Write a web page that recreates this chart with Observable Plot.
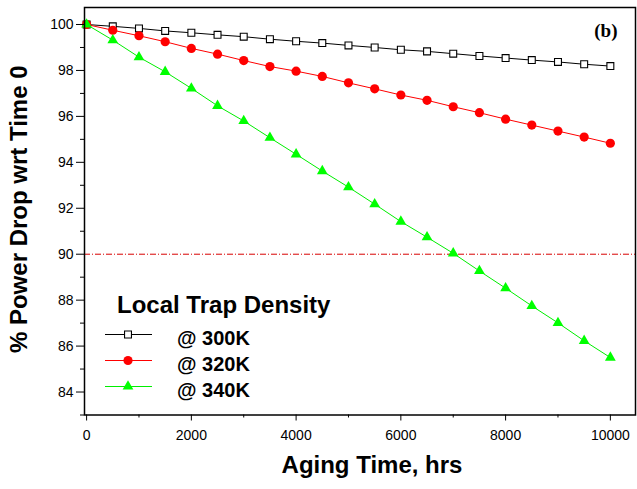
<!DOCTYPE html>
<html><head><meta charset="utf-8">
<script src="https://cdn.jsdelivr.net/npm/d3@7"></script>
<script src="https://cdn.jsdelivr.net/npm/@observablehq/plot@0.6"></script>
<style>
body{margin:0;background:#fff;}
#chart svg{font-family:"Liberation Sans",Arial,sans-serif;display:block;}
</style>
</head><body><div id="chart"></div>
<script>
// ---- data ----
const hours = [0,500,1000,1500,2000,2500,3000,3500,4000,4500,5000,5500,6000,6500,7000,7500,8000,8500,9000,9500,10000];
const series = ["@ 300K","@ 320K","@ 340K"];
const v300K = [100,99.92,99.83,99.72,99.64,99.55,99.47,99.36,99.27,99.19,99.09,99.0,98.90,98.83,98.73,98.63,98.54,98.45,98.37,98.27,98.19];
const v320K = [100,99.75,99.51,99.25,98.96,98.71,98.43,98.17,97.97,97.74,97.46,97.2,96.93,96.70,96.42,96.16,95.88,95.62,95.36,95.10,94.83];
const v340K = [100,99.32,98.58,97.94,97.22,96.46,95.80,95.07,94.35,93.62,92.92,92.18,91.42,90.74,90.04,89.27,88.52,87.75,87.01,86.23,85.50];
const seriesValues = [v300K, v320K, v340K];
const seriesStroke = ["#000000","#ff0000","#00ee00"];
const seriesFill = ["#ffffff","#ff0000","#00ff00"];
const seriesSymbol = ["square","circle","triangle"];
const seriesR = [3.9,4.6,4.0];
const thresholdValue = [90];
const xMajorTicks = [0,2000,4000,6000,8000,10000];
const xMinorTicks = [1000,3000,5000,7000,9000];
const yMajorTicks = [84,86,88,90,92,94,96,98,100];
const yMinorTicks = [83,85,87,89,91,93,95,97,99];
const xTitle = "Aging Time, hrs";
const yTitle = "% Power Drop wrt Time 0";
const legendTitle = "Local Trap Density";
const panelTag = "(b)";

// tidy rows built from the arrays
const rows = [];
series.forEach((s, i) => hours.forEach((h, j) => rows.push({hours: h, value: seriesValues[i][j], series: s})));

const seriesMarks = series.flatMap((s, i) => [
  Plot.line(rows.filter(d => d.series === s), {x: "hours", y: "value", stroke: seriesStroke[i], strokeWidth: 1}),
  Plot.dot(rows.filter(d => d.series === s), {x: "hours", y: "value", symbol: () => seriesSymbol[i], r: seriesR[i],
    fill: seriesFill[i], stroke: seriesStroke[i], strokeWidth: i === 0 ? 1.1 : 0})
]);

const chart = Plot.plot({
  width: 637,
  height: 489,
  marginLeft: 84,
  marginRight: 2,
  marginTop: 7,
  marginBottom: 74.5,
  style: {fontFamily: "Liberation Sans, Arial, sans-serif", background: "#fff", color: "#000"},
  x: {domain: [-40, 10480]},
  y: {domain: [83.0, 100.74]},
  symbol: {type: "identity"},
  marks: [
    Plot.ruleY(thresholdValue, {stroke: "#d80000", strokeWidth: 1, strokeDasharray: "6,2,1,2"}),
    ...seriesMarks,
    Plot.axisX({ticks: xMajorTicks, tickSize: 6, tickPadding: 9, fontSize: 14, label: null, tickFormat: d => String(d)}),
    Plot.axisX({ticks: xMinorTicks, tickSize: 3, text: null, label: null}),
    Plot.axisY({ticks: yMajorTicks, tickSize: 8, tickPadding: 3, fontSize: 14, label: null}),
    Plot.axisY({ticks: yMinorTicks, tickSize: 4, text: null, label: null}),
    Plot.frame({stroke: "#000", strokeWidth: 1.5}),
    Plot.text([xTitle], {frameAnchor: "bottom", dx: 12, dy: 58, fontSize: 24, fontWeight: "bold", fill: "#000"}),
    Plot.text([yTitle], {frameAnchor: "left", textAnchor: "middle", rotate: -90, dx: -65, dy: -2, fontSize: 24, fontWeight: "bold", fill: "#000"}),
    Plot.text([panelTag], {frameAnchor: "top-right", textAnchor: "end", dx: -18, dy: 16, fontSize: 19, fontWeight: "bold",
      fontFamily: "Liberation Serif, Times New Roman, serif", fill: "#000"})
  ]
});
document.getElementById("chart").append(chart);

// legend inside the plot area
const svg = d3.select(chart);
const lg = svg.append("g").attr("font-family", "Liberation Sans, Arial, sans-serif").attr("font-weight", "bold")
  .attr("fill", "#000").attr("text-anchor", "start");
lg.append("text").attr("x", 117).attr("y", 313).attr("font-size", 24).text(legendTitle);
series.forEach((s, i) => {
  const y = 334.5 + i * 26;
  lg.append("line").attr("x1", 105).attr("x2", 152).attr("y1", y).attr("y2", y).attr("stroke", seriesStroke[i]).attr("stroke-width", 1);
  const sym = {square: d3.symbolSquare, circle: d3.symbolCircle, triangle: d3.symbolTriangle}[seriesSymbol[i]];
  lg.append("path").attr("transform", `translate(128,${y})`)
    .attr("d", d3.symbol(sym, Math.PI * seriesR[i] * seriesR[i])())
    .attr("fill", seriesFill[i]).attr("stroke", i === 0 ? seriesStroke[i] : "none").attr("stroke-width", 1.1);
  lg.append("text").attr("x", 177).attr("y", y + 10).attr("font-size", 20).text(s);
});
</script>
</body></html>
